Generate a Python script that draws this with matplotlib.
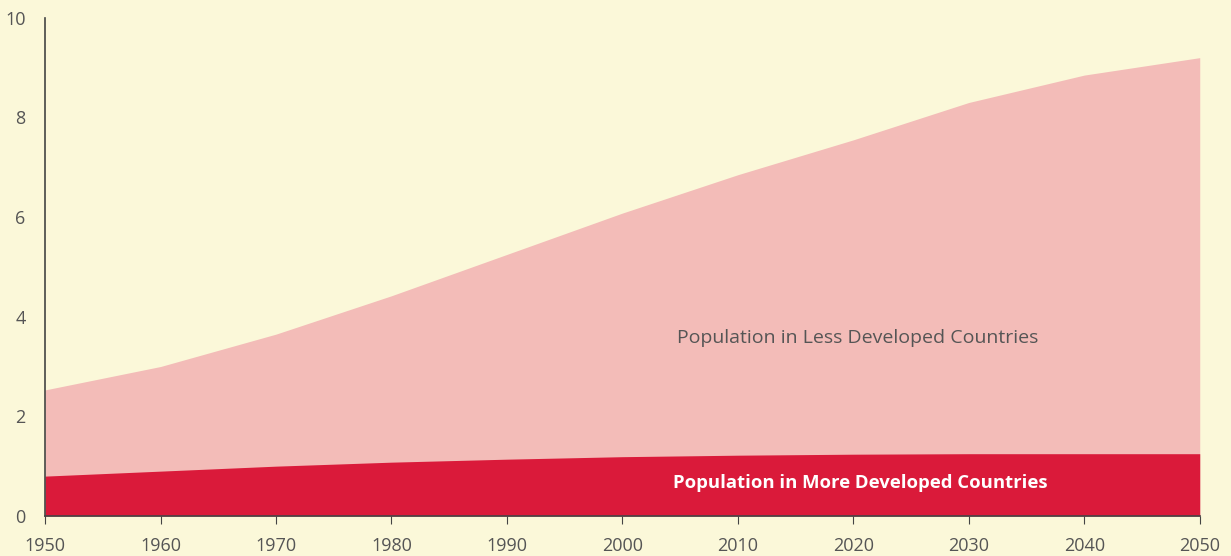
import numpy as np
import matplotlib.pyplot as plt

years = [1950, 1960, 1970, 1980, 1990, 2000, 2010, 2020, 2030, 2040, 2050]
# world population, billions (total = more + less developed)
total_pop = [2.53, 3.0, 3.65, 4.42, 5.25, 6.08, 6.85, 7.55, 8.3, 8.85, 9.2]
more_dev = [0.8, 0.9, 1.0, 1.08, 1.14, 1.19, 1.22, 1.24, 1.25, 1.25, 1.25]

x_ticks = list(range(1950, 2051, 10))
y_ticks = [0, 2, 4, 6, 8, 10]

bg = '#fbf8d9'
pink = '#f3bcb8'
red = '#da1a3a'

plt.rcParams['font.family'] = ['Open Sans', 'DejaVu Sans']

fig = plt.figure(figsize=(12.31, 5.56), dpi=100, facecolor=bg)
ax = fig.add_axes([0.0366, 0.072, 0.938, 0.896])
ax.set_facecolor(bg)

ax.fill_between(years, 0, total_pop, color=pink, linewidth=0)
ax.fill_between(years, 0, more_dev, color=red, linewidth=0)

ax.text(2020.4, 3.57, 'Population in Less Developed Countries',
        ha='center', va='center', fontsize=14, color='#555555')
ax.text(2020.6, 0.66, 'Population in More Developed Countries',
        ha='center', va='center', fontsize=13.3, color='white', fontweight='bold')

ax.set_xlim(1950, 2050)
ax.set_ylim(0, 10)
ax.set_xticks(x_ticks)
ax.set_yticks(y_ticks)
for s in ['top', 'right']:
    ax.spines[s].set_visible(False)
for s in ['left', 'bottom']:
    ax.spines[s].set_color('#444444')
    ax.spines[s].set_linewidth(1.2)
ax.tick_params(axis='x', direction='out', length=6, color='#444444',
               labelsize=13, labelcolor='#555555', pad=9)
ax.tick_params(axis='y', length=0, labelsize=13, labelcolor='#555555', pad=14)

fig.savefig('out.png', dpi=100, facecolor=bg)
